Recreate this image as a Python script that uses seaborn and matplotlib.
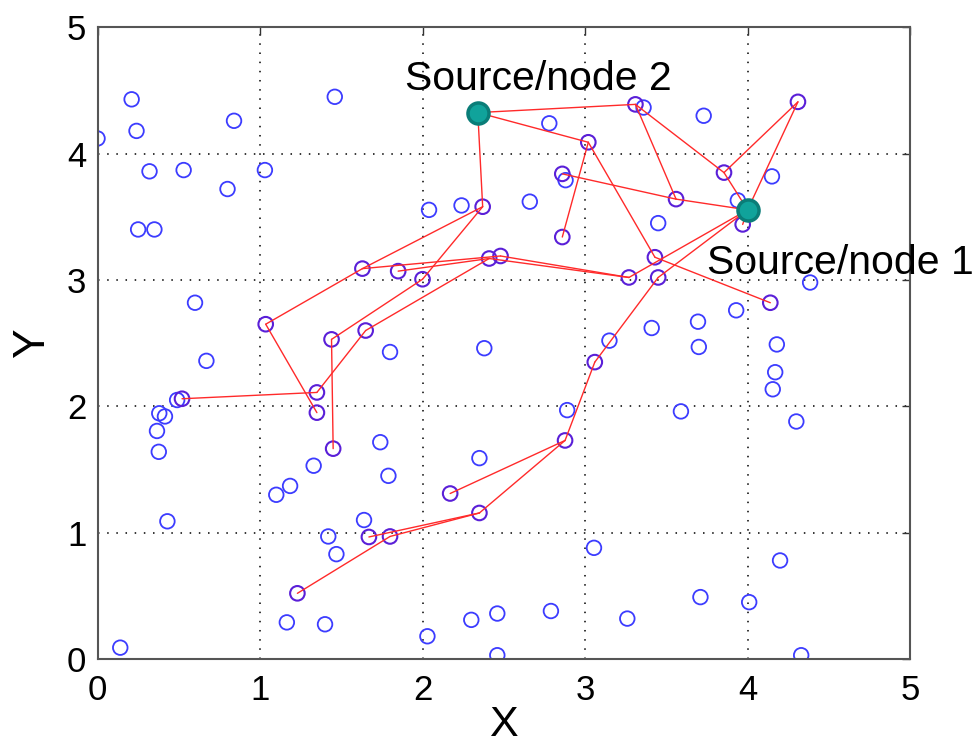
import matplotlib
matplotlib.use("Agg")
import matplotlib.pyplot as plt
import seaborn as sns
import pandas as pd

# ---------------- data ----------------
# plain (unused) sensor nodes
plain_x = [0.00, 0.21, 0.24, 0.32, 0.53, 0.25, 0.35, 0.84, 0.80, 1.03, 1.46, 0.60,
           2.04, 2.24, 1.80, 2.38, 0.67, 0.49, 0.38, 0.415, 0.366, 0.377, 0.43, 0.14,
           1.74, 1.33, 1.79, 1.185, 1.10, 1.64, 1.42, 1.47, 1.165, 1.40, 2.03, 2.30,
           2.46, 2.46, 2.35, 3.15, 3.41, 3.70, 4.18, 4.17, 4.155, 2.89, 3.59, 4.30,
           3.055, 4.20, 3.71, 4.01, 2.79, 3.26, 4.33, 3.36, 3.73, 2.78, 4.15, 2.88,
           2.66, 3.94, 3.45, 4.385, 3.695, 3.93]
plain_y = [4.12, 4.43, 4.18, 3.86, 3.87, 3.40, 3.40, 4.26, 3.72, 3.87, 4.45, 2.82,
           3.555, 3.59, 2.43, 2.46, 2.36, 2.05, 1.945, 1.92, 1.805, 1.64, 1.09, 0.09,
           1.716, 1.53, 1.45, 1.37, 1.30, 1.10, 0.97, 0.83, 0.29, 0.275, 0.18, 0.31,
           0.36, 0.03, 1.59, 2.52, 2.62, 2.47, 2.49, 2.27, 2.135, 1.97, 1.96, 1.88,
           0.88, 0.78, 0.49, 0.45, 0.38, 0.32, 0.03, 4.365, 4.30, 4.24, 3.82, 3.79,
           3.62, 3.63, 3.45, 2.98, 2.67, 2.76]

# routing nodes (index 0 = Source/node 1, index 1 = Source/node 2)
route_x = [4.00, 2.34, 2.37, 1.63, 1.85, 2.00, 2.41, 2.48, 1.035, 1.44, 1.65, 0.52,
           1.35, 1.35, 1.45, 1.67, 1.80, 1.23, 2.17, 2.35, 2.877, 3.06, 3.31, 4.31,
           3.02, 3.855, 2.86, 3.56, 3.97, 2.86, 3.43, 3.27, 3.45, 4.14]
route_y = [3.555, 4.325, 3.58, 3.09, 3.07, 3.006, 3.17, 3.19, 2.65, 2.53, 2.60, 2.06,
           2.11, 1.95, 1.665, 0.966, 0.97, 0.52, 1.31, 1.156, 1.73, 2.35, 4.39, 4.41,
           4.09, 3.85, 3.84, 3.64, 3.44, 3.34, 3.18, 3.02, 3.02, 2.82]

# links between routing nodes (index pairs)
edge_from = [1, 1, 1, 2, 3, 2, 5, 3, 4, 6, 7, 10, 8, 11, 12, 9, 17, 15, 16, 18, 19,
             20, 21, 32, 31, 24, 24, 30, 26, 27, 22, 22, 25, 25, 23, 0]
edge_to   = [22, 24, 2, 3, 8, 5, 9, 7, 6, 31, 31, 6, 13, 12, 10, 14, 16, 19, 19, 20, 20,
             21, 32, 0, 0, 29, 30, 33, 27, 0, 27, 25, 23, 0, 0, 28]

source_labels = ["Source/node 1", "Source/node 2"]
x_ticks = [0, 1, 2, 3, 4, 5]
y_ticks = [0, 1, 2, 3, 4, 5]

# ---------------- plot ----------------
sns.set_style("white")
plt.rcParams["font.family"] = ["Liberation Sans", "DejaVu Sans"]
plt.rcParams["text.color"] = "black"
plt.rcParams["axes.labelcolor"] = "black"
plt.rcParams["xtick.color"] = "black"
plt.rcParams["ytick.color"] = "black"

fig = plt.figure(figsize=(9.79, 7.46), dpi=100)
ax = fig.add_axes([0.0996, 0.1166, 0.8300, 0.8468])

plain_df = pd.DataFrame({"x": plain_x, "y": plain_y})
route_df = pd.DataFrame({"x": route_x[2:], "y": route_y[2:]})
src_df = pd.DataFrame({"x": route_x[:2], "y": route_y[:2]})

sns.scatterplot(data=plain_df, x="x", y="y", ax=ax, marker="o", s=110,
                facecolor="none", edgecolor="#3c3cff", linewidth=1.3, zorder=2)
sns.scatterplot(data=route_df, x="x", y="y", ax=ax, marker="o", s=110,
                facecolor="none", edgecolor="#5a1fd8", linewidth=1.5, zorder=2)

for a, b in zip(edge_from, edge_to):
    ax.plot([route_x[a], route_x[b]], [route_y[a], route_y[b]],
            color="#ff2a2a", linewidth=1.0, zorder=3)

sns.scatterplot(data=src_df, x="x", y="y", ax=ax, marker="o", s=230,
                color="#10a39b", edgecolor="#0a7d78", linewidth=2.5, zorder=4)

ax.text(3.75, 3.05, source_labels[0], fontsize=29.5, ha="left", va="baseline",
        color="black")
ax.text(1.89, 4.505, source_labels[1], fontsize=29.5, ha="left", va="baseline",
        color="black")

ax.set_xlim(0, 5)
ax.set_ylim(0, 5)
ax.set_xticks(x_ticks)
ax.set_yticks(y_ticks)
ax.set_xticklabels([str(t) for t in x_ticks])
ax.set_yticklabels([str(t) for t in y_ticks])
ax.tick_params(axis="both", direction="in", length=6, width=1, color="#333333",
               labelcolor="black", labelsize=25, top=True, right=True)
ax.tick_params(axis="x", pad=11)
ax.tick_params(axis="y", pad=8)
ax.grid(True, color="black", linestyle=(0, (1, 5)), linewidth=1.1)
ax.set_axisbelow(True)
for sp in ax.spines.values():
    sp.set_color("#555555")
    sp.set_linewidth(1.5)

ax.set_xlabel("X", fontsize=31, labelpad=-2, color="black")
ax.set_ylabel("Y", fontsize=32, labelpad=10, color="black")

fig.savefig("out.png", dpi=100)
